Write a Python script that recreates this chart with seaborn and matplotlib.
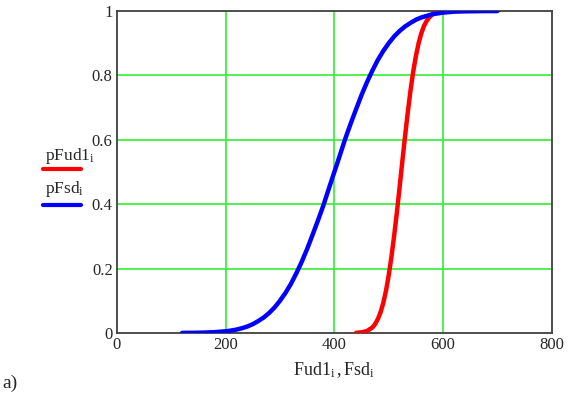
import numpy as np
import pandas as pd
import seaborn as sns
import matplotlib.pyplot as plt
from matplotlib.lines import Line2D

# -------------------------------
# Data
# -------------------------------
fsd_x = [120, 140, 160, 180, 200, 210, 220, 230, 240, 250, 260, 270, 280, 290, 300,
         310, 320, 330, 340, 350, 360, 370, 380, 390, 400, 410, 420, 430, 440, 450,
         460, 470, 480, 490, 500, 510, 520, 530, 540, 550, 560, 570, 580, 590, 600,
         620, 640, 660, 680, 700]
pfsd = [0.0002, 0.0004, 0.0011, 0.0024, 0.0052, 0.0074, 0.0104, 0.0146, 0.020, 0.0272,
        0.037, 0.0478, 0.062, 0.079, 0.100, 0.124, 0.152, 0.185, 0.221, 0.261,
        0.305, 0.350, 0.397, 0.449, 0.500, 0.551, 0.603, 0.650, 0.695, 0.739,
        0.779, 0.815, 0.848, 0.876, 0.900, 0.921, 0.938, 0.952, 0.963, 0.973,
        0.980, 0.985, 0.990, 0.9926, 0.995, 0.998, 0.999, 0.9995, 0.9998, 0.9999]

fud1_x = [440, 450, 460, 470, 475, 480, 485, 490, 495, 500, 505, 510, 515, 520, 525,
          530, 535, 540, 545, 550, 555, 560, 565, 570, 575, 580, 590, 600, 610, 620]
pfud1 = [0.0005, 0.0018, 0.0059, 0.017, 0.0274, 0.043, 0.064, 0.093, 0.131, 0.179,
         0.236, 0.302, 0.374, 0.452, 0.532, 0.610, 0.684, 0.752, 0.811, 0.860,
         0.900, 0.931, 0.954, 0.970, 0.981, 0.989, 0.996, 0.999, 0.9997, 0.9999]

x_ticks = [0, 200, 400, 600, 800]
y_ticks = [0, 0.2, 0.4, 0.6, 0.8, 1]
y_tick_labels = ["0", "0.2", "0.4", "0.6", "0.8", "1"]

# -------------------------------
# Style
# -------------------------------
sns.set_style("white")
plt.rcParams["font.family"] = ["Liberation Serif", "DejaVu Serif"]
plt.rcParams["mathtext.fontset"] = "custom"
plt.rcParams["mathtext.rm"] = "Liberation Serif"
plt.rcParams["mathtext.it"] = "Liberation Serif:italic"

fig = plt.figure(figsize=(5.73, 3.94), dpi=100)
ax = fig.add_axes([0.204, 0.155, 0.759, 0.817])

grid_green = "#33ee33"
for gx in x_ticks[1:-1]:
    ax.axvline(gx, color=grid_green, lw=1.2, zorder=1)
for gy in y_ticks[1:-1]:
    ax.axhline(gy, color=grid_green, lw=1.2, zorder=1)

df_ud = pd.DataFrame({"x": fud1_x, "p": pfud1})
df_sd = pd.DataFrame({"x": fsd_x, "p": pfsd})
sns.lineplot(data=df_ud, x="x", y="p", color="#ff0000", lw=3.2, ax=ax, zorder=3)
sns.lineplot(data=df_sd, x="x", y="p", color="#0000ff", lw=3.2, ax=ax, zorder=4)

ax.set_xlim(0, 800)
ax.set_ylim(0, 1)
ax.set_xticks(x_ticks)
ax.set_xticklabels([str(t) for t in x_ticks])
ax.set_yticks(y_ticks)
ax.set_yticklabels(y_tick_labels)
ax.tick_params(length=0, labelsize=12, pad=3)
ax.set_xlabel(r"$\mathrm{Fud1}_{\mathrm{i}}\,,\mathrm{Fsd}_{\mathrm{i}}$", fontsize=13, labelpad=5)
ax.set_ylabel("")

for sp in ax.spines.values():
    sp.set_color("#404040")
    sp.set_linewidth(1.3)

# -------------------------------
# Legend on the left, Mathcad style
# -------------------------------
fig.text(0.078, 0.578, r"$\mathrm{pFud1}_{\mathrm{i}}$", fontsize=12.5, ha="left", va="bottom")
fig.add_artist(Line2D([0.075, 0.141], [0.571, 0.571], color="#ff0000", lw=3,
                      transform=fig.transFigure))
fig.text(0.078, 0.495, r"$\mathrm{pFsd}_{\mathrm{i}}$", fontsize=12.5, ha="left", va="bottom")
fig.add_artist(Line2D([0.075, 0.141], [0.48, 0.48], color="#0000ff", lw=3,
                      transform=fig.transFigure))

fig.text(0.005, 0.005, "a)", fontsize=14, ha="left", va="bottom")

fig.savefig("out.png", dpi=100)
